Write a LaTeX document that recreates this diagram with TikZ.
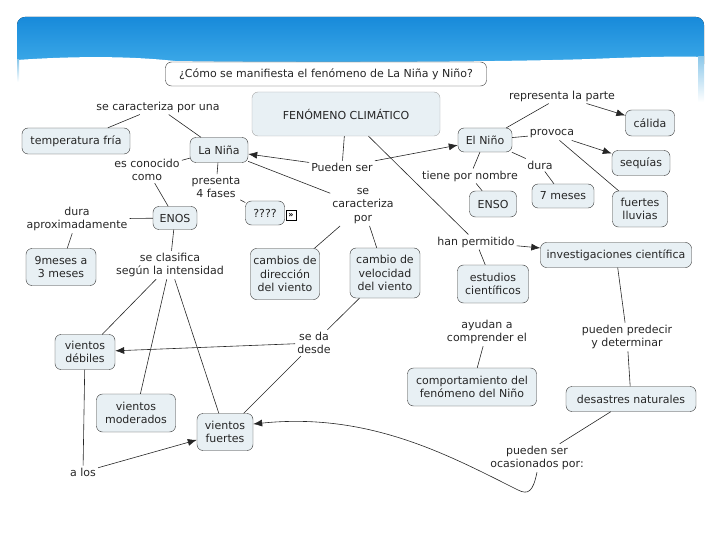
\documentclass[tikz,border=0pt]{standalone}
\usepackage{fontspec}
\setmainfont{DejaVu Sans}
\usepackage{tikz}
\usetikzlibrary{arrows.meta,shadings}

\definecolor{boxfill}{RGB}{232,240,244}
\definecolor{headtop}{RGB}{24,138,218}
\definecolor{headbot}{RGB}{66,174,234}
\definecolor{stripblue}{RGB}{140,200,234}

\tikzset{
  concept/.style={draw=black!80, fill=boxfill, rounded corners=6pt, align=center, inner sep=2pt, font=\fontsize{11}{13.5}\selectfont, text=black!85},
  phrase/.style={align=center, inner sep=2pt, font=\fontsize{11}{13.5}\selectfont, text=black!85},
  link/.style={draw=black!85, line width=0.6pt},
  >={Latex[length=9pt,width=7pt]}
}

\begin{document}
\begin{tikzpicture}[x=1pt,y=-1pt]
\useasboundingbox (0,0) rectangle (720,540);
% encabezado azul
\fill[top color=headtop, bottom color=headbot, rounded corners=8pt] (17,17) rectangle (704,72);
\fill[white] (17,60) .. controls (60,57) and (120,55) .. (175,61) .. controls (300,63) and (500,62) .. (590,59) .. controls (640,57) and (680,56) .. (704,57) -- (704,74) -- (17,74) -- cycle;
\fill[top color=stripblue, bottom color=white] (698,57) rectangle (704,102);
\fill[top color=stripblue, bottom color=white] (17,60) rectangle (19,82);

% conceptos
\node[concept, fill=white, minimum width=321, minimum height=24] (pregunta) at (326,74) {¿Cómo se manifiesta el fenómeno de La Niña y Niño?};
\node[concept, draw=black!35, minimum width=188, minimum height=44] (fenomeno) at (346,114) {FENÓMENO CLIMÁTICO};
\node[concept, minimum width=108, minimum height=26] (tempfria) at (76,141) {temperatura fría};
\node[concept, minimum width=58, minimum height=25] (lanina) at (219,150) {La Niña};
\node[concept, minimum width=54, minimum height=24] (elnino) at (485,140) {El Niño};
\node[concept, minimum width=49, minimum height=26] (calida) at (650,123) {cálida};
\node[concept, minimum width=58, minimum height=25] (sequias) at (641,163) {sequías};
\node[concept, minimum width=55, minimum height=36] (lluvias) at (640,209) {fuertes\\lluvias};
\node[concept, minimum width=62, minimum height=24] (sietemeses) at (563,196) {7 meses};
\node[concept, minimum width=47, minimum height=26] (enso) at (493,204) {ENSO};
\node[concept, minimum width=44, minimum height=23] (enos) at (175,218) {ENOS};
\node[concept, minimum width=39, minimum height=24] (fases) at (265,213) {????};
\node[draw=black, fill=white, inner sep=0pt, minimum size=10pt, font=\fontsize{8}{8}\selectfont\bfseries] (fasesicon) at (291,215) {»};
\node[concept, minimum width=70, minimum height=37] (nuevemeses) at (61,267) {9meses a\\3 meses};
\node[concept, minimum width=69, minimum height=51] (direccion) at (285,274) {cambios de\\dirección\\del viento};
\node[concept, minimum width=70, minimum height=50] (velocidad) at (385,273) {cambio de\\velocidad\\del viento};
\node[concept, minimum width=71, minimum height=38] (estudios) at (493,284) {estudios\\científicos};
\node[concept, minimum width=151, minimum height=25] (investig) at (616,255) {investigaciones científica};
\node[concept, minimum width=60, minimum height=35] (vdebiles) at (85,352) {vientos\\débiles};
\node[concept, minimum width=79, minimum height=38] (vmoderados) at (136,413) {vientos\\moderados};
\node[concept, minimum width=56, minimum height=37] (vfuertes) at (225,432) {vientos\\fuertes};
\node[concept, minimum width=129, minimum height=38] (comport) at (472,387) {comportamiento del\\fenómeno del Niño};
\node[concept, minimum width=130, minimum height=25] (desastres) at (631,399) {desastres naturales};

% frases de enlace
\node[phrase] (caractuna) at (158,107) {se caracteriza por una};
\node[phrase] (conocido) at (147,170) {es conocido\\como};
\node[phrase] (presenta) at (216,187) {presenta\\4 fases};
\node[phrase] (puedenser) at (342,167) {Pueden ser};
\node[phrase] (caractpor) at (363,206) {se\\caracteriza\\por};
\node[phrase] (representa) at (562,96) {representa la parte};
\node[phrase] (provoca) at (552,134) {provoca};
\node[phrase] (dura) at (540,165) {dura};
\node[phrase] (tiene) at (470,176) {tiene por nombre};
\node[phrase] (duraaprox) at (77,219) {dura\\aproximadamente};
\node[phrase] (clasifica) at (170,265) {se clasifica\\según la intensidad};
\node[phrase] (permitido) at (476,242) {han permitido};
\node[phrase] (sedadesde) at (314,343) {se da\\desde};
\node[phrase] (ayudan) at (487,332) {ayudan a\\comprender el};
\node[phrase] (predecir) at (627,337) {pueden predecir\\y determinar};
\node[phrase] (ocasion) at (537,458) {pueden ser\\ocasionados por:};
\node[phrase] (alos) at (83,472) {a los};

% conexiones
\draw[link] (fenomeno) -- (puedenser);
\draw[link, ->] (puedenser) -- (lanina);
\draw[link, ->] (puedenser) -- (elnino);
\draw[link] (lanina) -- (caractuna);
\draw[link] (caractuna) -- (tempfria);
\draw[link] (lanina) -- (conocido);
\draw[link] (conocido) -- (enos);
\draw[link] (lanina) -- (presenta);
\draw[link] (presenta) -- (fases);
\draw[link] (lanina) -- (caractpor);
\draw[link] (caractpor) -- (direccion);
\draw[link] (caractpor) -- (velocidad);
\draw[link] (fenomeno) -- (permitido);
\draw[link] (permitido) -- (estudios);
\draw[link, ->] (permitido) -- (investig);
\draw[link] (elnino) -- (representa);
\draw[link, ->] (representa) -- (calida);
\draw[link] (elnino) -- (provoca);
\draw[link, ->] (provoca) -- (sequias);
\draw[link] (provoca) -- (lluvias);
\draw[link] (elnino) -- (dura);
\draw[link] (dura) -- (sietemeses);
\draw[link] (elnino) -- (tiene);
\draw[link] (tiene) -- (enso);
\draw[link] (enos) -- (duraaprox);
\draw[link] (duraaprox) -- (nuevemeses);
\draw[link] (enos) -- (clasifica);
\draw[link] (clasifica) -- (vdebiles);
\draw[link] (clasifica) -- (vmoderados);
\draw[link] (clasifica) -- (vfuertes);
\draw[link] (velocidad) -- (sedadesde);
\draw[link, ->] (sedadesde) -- (vdebiles);
\draw[link] (sedadesde) -- (vfuertes);
\draw[link] (vdebiles) -- (alos);
\draw[link, ->] (alos) -- (vfuertes);
\draw[link] (investig) -- (predecir);
\draw[link] (predecir) -- (desastres);
\draw[link] (ayudan) -- (comport);
\draw[link] (desastres) -- (ocasion);
\draw[link, ->] (ocasion.south) .. controls (533,492) and (528,495) .. (518,490) .. controls (450,456) and (370,412) .. ([yshift=8pt]vfuertes.east);
\end{tikzpicture}
\end{document}
